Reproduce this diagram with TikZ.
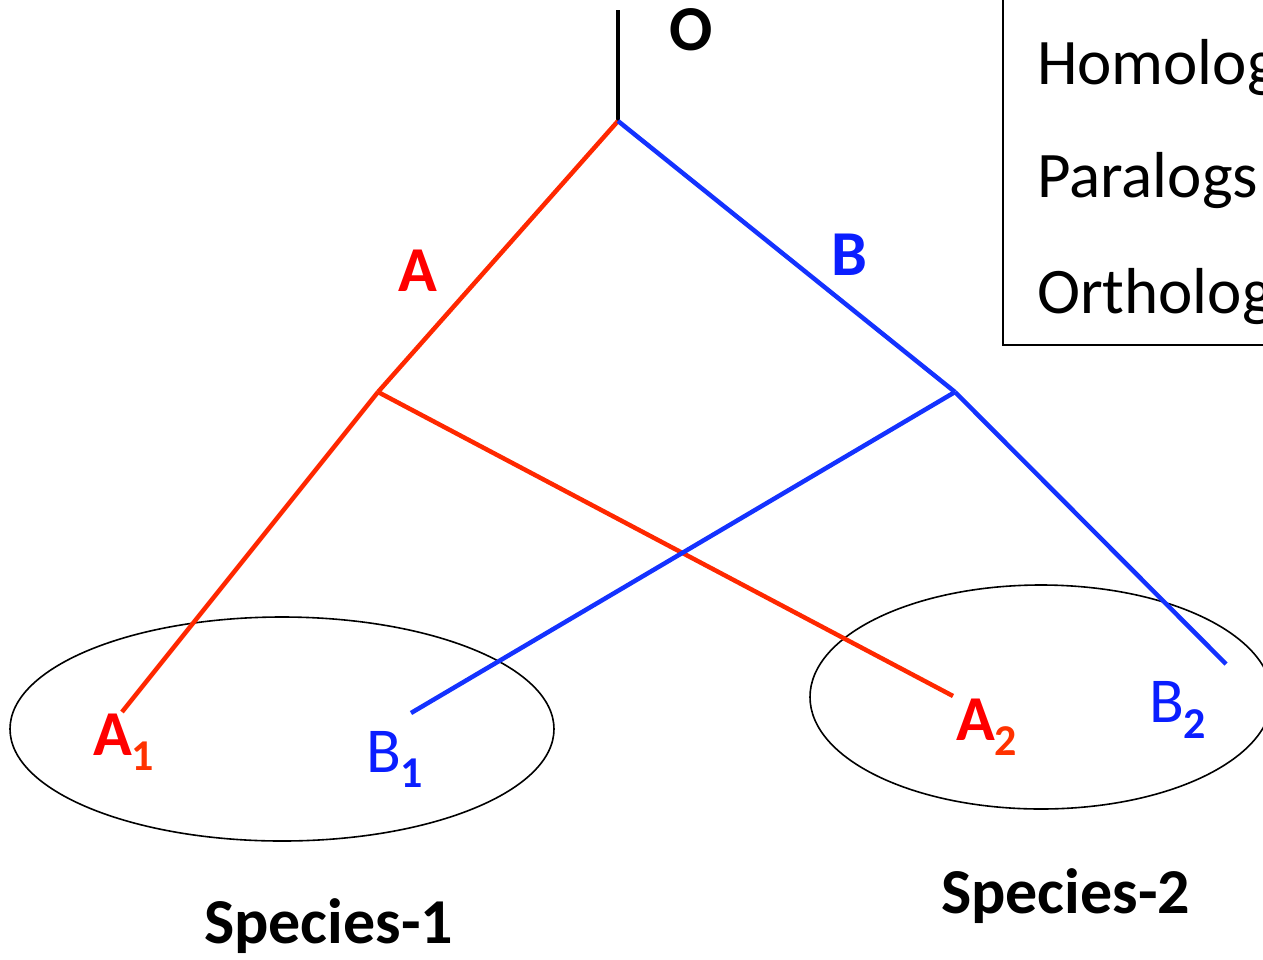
\documentclass[tikz,border=0pt]{standalone}
\usepackage{fontspec}
\setmainfont{Carlito}
\definecolor{lred}{RGB}{255,40,0}
\definecolor{tred}{RGB}{255,0,0}
\definecolor{sred}{RGB}{255,50,0}
\definecolor{lblue}{RGB}{20,50,255}
\definecolor{tblue}{RGB}{10,30,255}
\begin{document}
\begin{tikzpicture}[x=1pt,y=-1pt,
  branchR/.style={draw=lred,line width=4.5pt},
  branchB/.style={draw=lblue,line width=4.5pt},
  stem/.style={draw=black,line width=4.5pt},
  species/.style={draw=black,line width=1.6pt},
  lab/.style={anchor=base west,inner sep=0pt,outer sep=0pt,font=\fontsize{64}{76}\selectfont},
  boldlab/.style={lab,font=\fontsize{64}{76}\selectfont\bfseries}]
\path[use as bounding box,clip] (0,0) rectangle (1263,959);
% tree points
\coordinate (top) at (618,10);
\coordinate (root) at (618,121);
\coordinate (nA) at (378,392);
\coordinate (nB) at (955,392);
\coordinate (eA1) at (122,712);
\coordinate (eB1) at (411,713);
\coordinate (eA2) at (953,696);
\coordinate (eB2) at (1226,664);
% species ellipses
\draw[species] (282,729) ellipse [x radius=272,y radius=112];
\draw[species] (1041,697) ellipse [x radius=231,y radius=112];
% branches
\draw[stem] (top) -- (root);
\draw[branchR] (root) -- (nA);
\draw[branchB] (root) -- (nB);
\draw[branchR] (nA) -- (eA1);
\draw[branchR] (nA) -- (eA2);
\draw[branchB] (nB) -- (eB1);
\draw[branchB] (nB) -- (eB2);
% labels
\node[boldlab] (lO) at (669,50) {O};
\node[boldlab,text=tred] (lA) at (398,291) {A};
\node[boldlab,text=tblue] (lB) at (831,275) {B};
\node[boldlab,text=tred] (lA1) at (93,755) {A\raisebox{-15pt}{\color{sred}\fontsize{44}{52}\selectfont\bfseries 1}};
\node[lab,text=tblue] (lB1) at (366,772) {B\raisebox{-15pt}{\fontsize{44}{52}\selectfont\bfseries 1}};
\node[boldlab,text=tred] (lA2) at (956,740) {A\raisebox{-15pt}{\color{sred}\fontsize{44}{52}\selectfont\bfseries 2}};
\node[lab,text=tblue] (lB2) at (1149,722) {B\raisebox{-16pt}{\fontsize{44}{52}\selectfont\bfseries 2}};
\node[boldlab] (s1) at (204,943) {Species-1};
\node[boldlab] (s2) at (941,913) {Species-2};
% legend box
\draw[line width=1.3pt] (1003,-5) -- (1003,345) -- (1270,345);
\node[lab,font=\fontsize{65}{78}\selectfont] (hom) at (1037,84) {Homologs};
\node[lab,font=\fontsize{65}{78}\selectfont] (par) at (1037,197) {Paralogs};
\node[lab,font=\fontsize{65}{78}\selectfont] (ort) at (1037,313) {Orthologs};
\end{tikzpicture}
\end{document}
